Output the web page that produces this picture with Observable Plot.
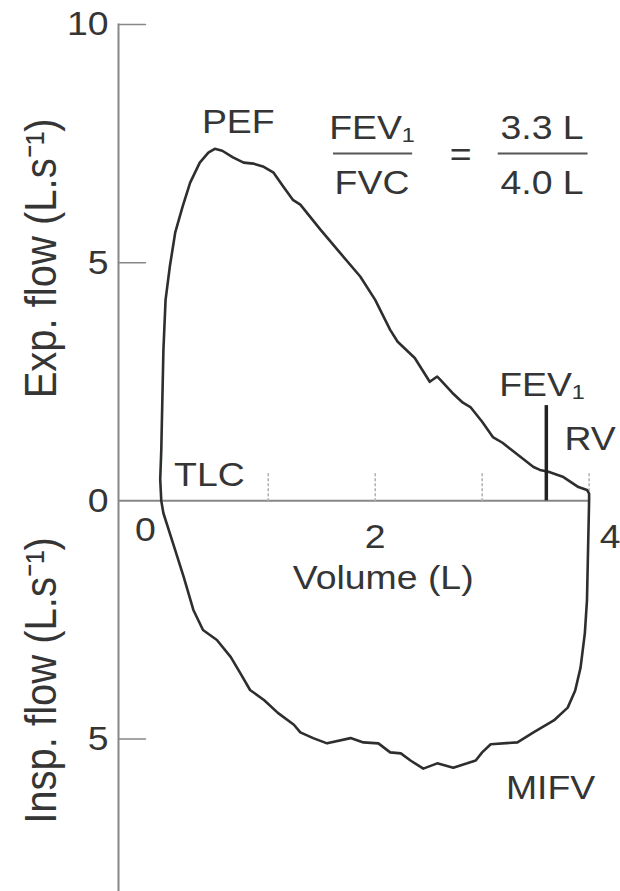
<!DOCTYPE html>
<html>
<head>
<meta charset="utf-8">
<script src="https://cdn.jsdelivr.net/npm/d3@7"></script>
<script src="https://cdn.jsdelivr.net/npm/@observablehq/plot@0.6"></script>
<style>
  html, body { margin: 0; padding: 0; background: #fff; }
  #chart svg { display: block; }
</style>
</head>
<body>
<div id="chart"></div>
<script>
// ---- Data (volume in L, flow in L/s; inspiratory flow negative) ----
const expVolume = [0.00, -0.01, 0.00, 0.01, 0.02, 0.04, 0.08, 0.13, 0.20, 0.27, 0.36, 0.44, 0.50, 0.57, 0.67, 0.77, 0.86, 0.95, 1.05, 1.14, 1.23, 1.30, 1.49, 1.67, 1.86, 2.00, 2.14, 2.21, 2.37, 2.51, 2.58, 2.61, 2.72, 2.82, 2.89, 3.00, 3.10, 3.19, 3.24, 3.36, 3.48, 3.54, 3.62, 3.76, 3.90, 3.98, 4.00];
const expFlow   = [0.00, 0.45, 1.07, 2.12, 3.17, 4.22, 4.92, 5.63, 6.18, 6.68, 7.10, 7.31, 7.39, 7.35, 7.21, 7.10, 7.08, 7.02, 6.89, 6.60, 6.32, 6.22, 5.69, 5.21, 4.71, 4.22, 3.59, 3.34, 3.00, 2.50, 2.61, 2.54, 2.27, 2.06, 1.97, 1.66, 1.34, 1.22, 1.13, 0.92, 0.71, 0.65, 0.61, 0.50, 0.29, 0.23, 0.15];

const inspVolume = [4.00, 3.99, 3.98, 3.96, 3.92, 3.87, 3.80, 3.67, 3.48, 3.33, 3.08, 3.00, 2.94, 2.86, 2.73, 2.58, 2.45, 2.33, 2.24, 2.14, 2.03, 1.89, 1.77, 1.55, 1.42, 1.30, 1.24, 1.09, 0.96, 0.83, 0.74, 0.65, 0.52, 0.39, 0.30, 0.21, 0.11, 0.02, 0.00];
const inspFlow   = [0.00, -1.04, -2.09, -2.78, -3.50, -3.98, -4.34, -4.61, -4.86, -5.07, -5.11, -5.28, -5.45, -5.51, -5.60, -5.51, -5.62, -5.45, -5.30, -5.28, -5.09, -5.07, -4.98, -5.09, -4.98, -4.86, -4.70, -4.45, -4.18, -3.97, -3.62, -3.28, -2.92, -2.71, -2.29, -1.60, -0.89, -0.26, 0.00];

const fvc = 4.0;               // volume at RV
const fev1Volume = 3.6;        // FEV1 marker position as drawn
const fev1MarkerTop = 2.0;     // flow at top of FEV1 marker

const xDomain = [-0.4, 4.2];
const yDomain = [-8.2, 10];
const yTickValues = [10, 5, 0, -5];
const yTickMarks = [10, 5, -5];
const xTickMarks = [1, 2, 3, 4];
const xTickLabelValues = [0, 2, 4];
const xAxisTitle = "Volume (L)";
const yAxisTitles = ["Exp. flow (L.s⁻¹)", "Insp. flow (L.s⁻¹)"];
const yAxisTitleFlows = [5.09, -3.77];

// annotation texts and their anchor points (data units)
const centerLabels = ["PEF", "TLC", "RV", "MIFV", "FVC", "=", "3.3 L", "4.0 L"];
const centerLabelVol = [0.72, 0.45, 4.01, 3.64, 1.97, 2.80, 3.56, 3.56];
const centerLabelFlow = [7.95, 0.55, 1.29, -6.02, 6.68, 7.25, 7.82, 6.68];
const startLabels = ["FEV₁", "FEV₁"];
const startLabelVol = [1.57, 3.16];
const startLabelFlow = [7.82, 2.42];
const fractionBarFlow = [7.29, 7.29];
const fractionBarFrom = [1.61, 3.15];
const fractionBarTo = [2.35, 3.99];

// ---- Build tables ----
const loop = [
  ...expVolume.map((v, i) => ({volume: v, flow: expFlow[i]})),
  ...inspVolume.map((v, i) => ({volume: v, flow: inspFlow[i]}))
];
const centerTable = centerLabels.map((t, i) => ({t, x: centerLabelVol[i], y: centerLabelFlow[i]}));
const startTable = startLabels.map((t, i) => ({t, x: startLabelVol[i], y: startLabelFlow[i]}));
const barTable = fractionBarFlow.map((f, i) => ({y: f, x1: fractionBarFrom[i], x2: fractionBarTo[i]}));
const titleTable = yAxisTitles.map((t, i) => ({t, y: yAxisTitleFlows[i]}));

const ink = "#353535";
const axisGray = "#878787";
const fs = 34;
const tickShape = {draw(context, l) { context.moveTo(0, 0); context.lineTo(0, -l); }};
const xLabelDx = [-16, 0, 21];
const xLabelDy = [29, 36, 36];

const chart = Plot.plot({
  width: 620,
  height: 891,
  marginLeft: 118,
  marginRight: 10,
  marginTop: 24,
  marginBottom: 0,
  style: {color: ink, background: "#fff", fontFamily: "'Liberation Sans', Arial, Helvetica, sans-serif"},
  x: {domain: xDomain, axis: null},
  y: {domain: yDomain, axis: null},
  marks: [
    // y axis line
    Plot.frame({anchor: "left", stroke: axisGray, strokeWidth: 2}),
    // x axis line from the y axis to RV
    Plot.ruleY([0], {x1: xDomain[0], x2: fvc, stroke: axisGray, strokeWidth: 2}),
    // inward y ticks
    Plot.vector(yTickMarks, {x: xDomain[0], y: d => d, length: 27, rotate: 90, anchor: "start", shape: tickShape, stroke: axisGray, strokeWidth: 1.5}),
    // dotted x ticks (pointing up)
    Plot.vector(xTickMarks, {x: d => d, y: 0, length: 27, anchor: "start", shape: tickShape, stroke: "#b0b0b0", strokeWidth: 1.5, strokeDasharray: "2,3"}),
    // y tick labels
    Plot.axisY(yTickValues, {tickSize: 0, tickPadding: 10, tickFormat: d => Math.abs(d), fontSize: fs, label: null, fill: ink}),
    // x tick labels
    ...xTickLabelValues.map((v, i) => Plot.text([v], {x: d => d, y: () => 0, text: d => String(d), dx: xLabelDx[i], dy: xLabelDy[i], fontSize: fs, fill: ink})),
    // x axis title
    Plot.text([xAxisTitle], {x: () => xTickLabelValues[1], y: () => 0, text: d => d, dx: 8, dy: 77, fontSize: fs, fill: ink}),
    // y axis titles
    Plot.text(titleTable, {frameAnchor: "left", y: "y", text: "t", rotate: -90, textAnchor: "middle", lineAnchor: "middle", dx: -77, fontSize: 40, fill: ink}),
    // flow-volume loop
    Plot.line(loop, {x: "volume", y: "flow", stroke: "#2e2e2e", strokeWidth: 2.6, curve: "linear", strokeLinejoin: "round"}),
    // FEV1 marker
    Plot.ruleX([fev1Volume], {y1: 0, y2: fev1MarkerTop, stroke: "#222", strokeWidth: 3.5}),
    // fraction bars
    Plot.ruleY(barTable, {y: "y", x1: "x1", x2: "x2", stroke: "#555", strokeWidth: 2}),
    // annotations
    Plot.text(centerTable, {x: "x", y: "y", text: "t", fontSize: fs, fill: ink}),
    Plot.text(startTable, {x: "x", y: "y", text: "t", textAnchor: "start", fontSize: fs, fill: ink})
  ]
});

// widen glyphs horizontally like the scanned original
const sx = 1.1;
chart.querySelectorAll("text").forEach(t => {
  const tr = t.getAttribute("transform") || "";
  const m = tr.match(/^\s*translate\(([^)]*)\)(.*)$/);
  if (m) {
    t.setAttribute("transform", `translate(${m[1]}) scale(${sx},1)${m[2]}`);
  } else {
    const x = +t.getAttribute("x") || 0, y = +t.getAttribute("y") || 0;
    t.removeAttribute("x"); t.removeAttribute("y");
    t.setAttribute("transform", `translate(${x},${y}) scale(${sx},1) ${tr}`);
  }
});

document.getElementById("chart").appendChild(chart);
</script>
</body>
</html>
